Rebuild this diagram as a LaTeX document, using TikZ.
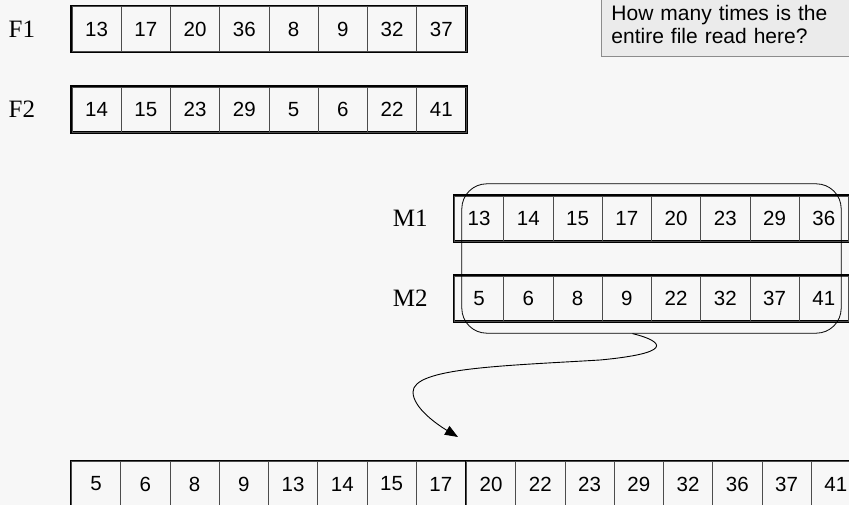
\documentclass[tikz,border=0pt]{standalone}
\usepackage{fontspec}
\setmainfont{Liberation Sans}
\newfontfamily\labelfont{Liberation Serif}
\usetikzlibrary{positioning,fit,arrows.meta}

\begin{document}
\begin{tikzpicture}[
   x=1pt,y=-1pt,
   every matrix/.style={ampersand replacement=\&,column sep=-0.9pt,draw,line width=2.5pt,inner sep=0pt},
   cell/.style={draw=black!70,line width=0.9pt,minimum width=49.25pt,minimum height=45pt,inner sep=0pt,font=\fontsize{20.5}{24}\selectfont},
   rowname/.style={inner sep=0pt,font=\labelfont\fontsize{25}{28}\selectfont},
   mergebox/.style={draw,line width=0.8pt,rounded corners=25pt,inner xsep=-9pt,inner ysep=10.5pt},
   flow/.style={-{Triangle[length=13pt,width=10pt]},line width=0.9pt},
   note/.style={draw=black!45,fill=black!8,line width=0.9pt,inner xsep=10pt,inner ysep=13pt,text width=240pt,align=left,font=\fontsize{21}{23}\selectfont}]
\useasboundingbox (0,0) rectangle (849,505);
\fill[black!3] (0,0) rectangle (849,505);
% input files
\matrix (F1) at (269,29) {
\node[cell] {13};\&\node[cell] {17};\&\node[cell] {20};\&\node[cell] {36};\&\node[cell] {8};\&\node[cell] {9};\&\node[cell] {32};\&\node[cell] {37};\\
};
\matrix (F2) at (269,109.5) {
\node[cell] {14};\&\node[cell] {15};\&\node[cell] {23};\&\node[cell] {29};\&\node[cell] {5};\&\node[cell] {6};\&\node[cell] {22};\&\node[cell] {41};\\
};
% merged runs
\matrix (M1) at (651.5,218.5) {
\node[cell] {13};\&\node[cell] {14};\&\node[cell] {15};\&\node[cell] {17};\&\node[cell] {20};\&\node[cell] {23};\&\node[cell] {29};\&\node[cell] {36};\\
};
\matrix (M2) at (651.5,298.5) {
\node[cell] {5};\&\node[cell] {6};\&\node[cell] {8};\&\node[cell] {9};\&\node[cell] {22};\&\node[cell] {32};\&\node[cell] {37};\&\node[cell] {41};\\
};
% result
\matrix (R1) at (268.5,484) {
\node[cell] {5};\&\node[cell] {6};\&\node[cell] {8};\&\node[cell] {9};\&\node[cell] {13};\&\node[cell] {14};\&\node[cell] {15};\&\node[cell] {17};\\
};
\matrix (R2) at (663.5,484) {
\node[cell] {20};\&\node[cell] {22};\&\node[cell] {23};\&\node[cell] {29};\&\node[cell] {32};\&\node[cell] {36};\&\node[cell] {37};\&\node[cell] {41};\\
};
\node[rowname,left=35pt of F1] (f1) {F1};
\node[rowname,left=35pt of F2] (f2) {F2};
\node[rowname,left=25pt of M1] (m1) {M1};
\node[rowname,left=25pt of M2] (m2) {M2};
\node[note,anchor=south west] (ask) at (601,57) {How many times is the\\entire file read here?};
\node[mergebox,fit=(M1)(M2)] (merge) {};
\coordinate (tip) at (458,437);
\draw[flow] ([xshift=-19pt]merge.south) .. controls (655,339) and (685,352) .. (600,360)
   .. controls (500,366) and (413,368) .. (413,392)
   .. controls (413,408) and (438,425) .. (tip);
\end{tikzpicture}
\end{document}
